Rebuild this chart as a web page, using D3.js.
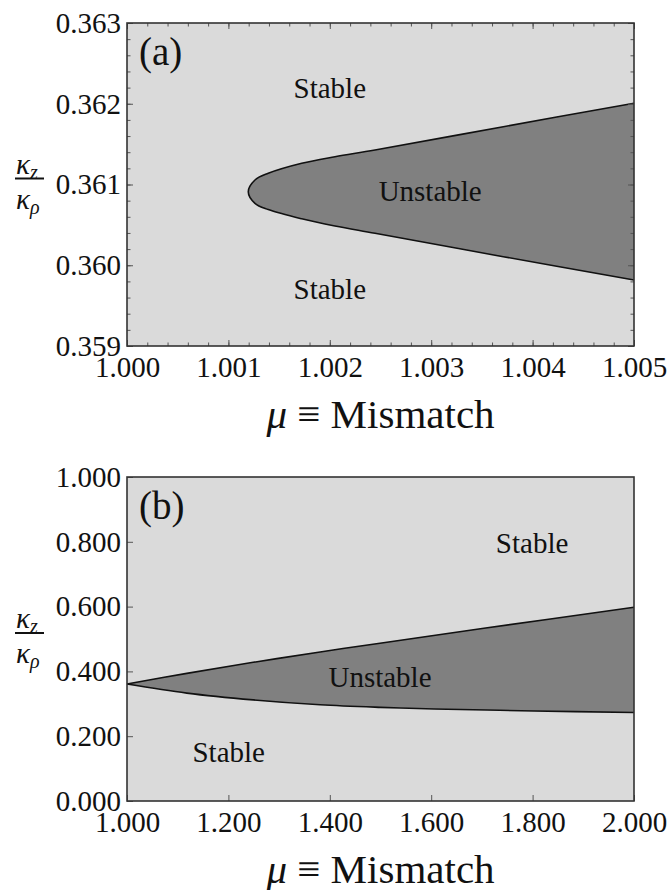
<!DOCTYPE html>
<html>
<head>
<meta charset="utf-8">
<script src="https://cdn.jsdelivr.net/npm/d3@7"></script>
<style>
  body { margin: 0; background: #fff; }
  svg text { font-family: "Liberation Serif", "Times New Roman", "DejaVu Serif", serif; fill: #111; }
</style>
</head>
<body>
<div id="chart"></div>
<script>
// panel (a) -- edge of the unstable region, both branches start at the tip
const upperMuA = [1.001196, 1.001262, 1.001393, 1.001723, 1.002051, 1.002446, 1.003711, 1.005];
const upperKA  = [0.360911, 0.361056, 0.361139, 0.361263, 0.361344, 0.361427, 0.361716, 0.362006];
const lowerMuA = [1.001196, 1.001262, 1.001393, 1.001723, 1.002051, 1.002446, 1.003711, 1.005];
const lowerKA  = [0.360911, 0.360767, 0.360690, 0.360575, 0.360486, 0.360396, 0.360106, 0.359817];

// panel (b) -- both branches leave the same point at mu = 1
const upperMuB = [1.000, 1.118, 1.249, 1.381, 1.499, 1.704, 2.000];
const upperKB  = [0.361, 0.394, 0.428, 0.460, 0.487, 0.533, 0.598];
const lowerMuB = [1.000, 1.118, 1.249, 1.381, 1.500, 1.606, 1.803, 2.000];
const lowerKB  = [0.361, 0.333, 0.312, 0.297, 0.289, 0.284, 0.278, 0.273];

// region labels
const labelTextA = ["Stable", "Unstable", "Stable"];
const labelMuA   = [1.002, 1.00299, 1.002];
const labelKA    = [0.36207, 0.3608, 0.35958];
const labelTextB = ["Stable", "Unstable", "Stable"];
const labelMuB   = [1.799, 1.499, 1.2006];
const labelKB    = [0.766, 0.353, 0.1213];

const width = 668, height = 890;
const left = 127, right = 634;

const svg = d3.select('#chart')
  .append('svg')
  .attr('width', width)
  .attr('height', height);

function zip(mu, k) {
  return mu.map((m, i) => [m, k[i]]);
}

function drawPanel(opts) {
  let x = d3.scaleLinear().domain(opts.xDomain).range([left, right]);
  let y = d3.scaleLinear().domain(opts.yDomain).range([opts.bottom, opts.top]);
  let g = svg.append('g');

  g.append('rect')
    .attr('x', left).attr('y', opts.top)
    .attr('width', right - left).attr('height', opts.bottom - opts.top)
    .attr('fill', '#dadada');

  let line = d3.line()
    .x(d => x(d[0]))
    .y(d => y(d[1]))
    .curve(d3.curveCatmullRom.alpha(0.5));

  let lower = zip(opts.lowerMu, opts.lowerK);
  let upper = zip(opts.upperMu, opts.upperK);
  let edges;
  if (opts.cusp) {
    // sharp corner where the branches meet: draw them apart
    edges = [line(lower.slice().reverse()) + line(upper).replace(/^M/, 'L')];
    g.append('path').attr('d', edges[0] + 'Z').attr('fill', '#808080');
    edges = [line(lower), line(upper)];
  } else {
    // smooth tip: one curve from lower right round to upper right
    let pts = lower.slice().reverse().concat(upper.slice(1));
    g.append('path').attr('d', line(pts) + 'Z').attr('fill', '#808080');
    edges = [line(pts)];
  }
  edges.forEach(d => {
    g.append('path')
      .attr('d', d)
      .attr('fill', 'none')
      .attr('stroke', '#111')
      .attr('stroke-width', 1.6);
  });

  // minor ticks first, all four sides, pointing inward
  if (opts.minor) {
    let xm = x.ticks(25), ym = y.ticks(20);
    let mk = (axis, t) => axis.tickValues(t).tickSize(-3.5).tickFormat('');
    g.append('g').attr('transform', `translate(0,${opts.bottom})`).call(mk(d3.axisBottom(x), xm));
    g.append('g').attr('transform', `translate(0,${opts.top})`).call(mk(d3.axisTop(x), xm));
    g.append('g').attr('transform', `translate(${left},0)`).call(mk(d3.axisLeft(y), ym));
    g.append('g').attr('transform', `translate(${right},0)`).call(mk(d3.axisRight(y), ym));
  }

  let xt = opts.xTicks, yt = opts.yTicks;
  let fmt = d3.format('.3f');

  g.append('g')
    .attr('class', 'xaxis')
    .attr('transform', `translate(0,${opts.bottom})`)
    .call(d3.axisBottom(x).tickValues(xt).tickSize(-6).tickPadding(10).tickFormat(fmt));
  g.append('g')
    .attr('class', 'yaxis')
    .attr('transform', `translate(${left},0)`)
    .call(d3.axisLeft(y).tickValues(yt).tickSize(-6).tickPadding(6).tickFormat(fmt));
  if (opts.minor) {
    g.append('g').attr('transform', `translate(0,${opts.top})`)
      .call(d3.axisTop(x).tickValues(xt).tickSize(-6).tickFormat(''));
    g.append('g').attr('transform', `translate(${right},0)`)
      .call(d3.axisRight(y).tickValues(yt).tickSize(-6).tickFormat(''));
  }

  g.selectAll('.domain').remove();
  g.selectAll('g[font-family]').attr('font-family', null);
  g.selectAll('.tick line').attr('stroke', '#555').attr('stroke-width', 1);
  g.selectAll('.xaxis text, .yaxis text')
    .attr('font-size', 29)
    .attr('fill', '#111');

  // frame
  g.append('rect')
    .attr('x', left).attr('y', opts.top)
    .attr('width', right - left).attr('height', opts.bottom - opts.top)
    .attr('fill', 'none')
    .attr('stroke', '#333')
    .attr('stroke-width', 1.6);

  // region labels
  g.selectAll('.region')
    .data(opts.labelText)
    .enter()
    .append('text')
    .attr('class', 'region')
    .attr('x', (d, i) => x(opts.labelMu[i]))
    .attr('y', (d, i) => y(opts.labelK[i]))
    .attr('text-anchor', 'middle')
    .attr('font-size', 29)
    .text(d => d);

  g.append('text')
    .attr('x', 139)
    .attr('y', opts.top + 42)
    .attr('font-size', 39)
    .text(opts.tag);

  // y label: kappa_z over kappa_rho
  let cy = (opts.top + opts.bottom) / 2 - 6;
  g.append('line')
    .attr('x1', 15).attr('x2', 44)
    .attr('y1', cy).attr('y2', cy)
    .attr('stroke', '#111').attr('stroke-width', 2);
  let num = g.append('text')
    .attr('x', 16).attr('y', cy - 5)
    .attr('font-size', 29).attr('font-style', 'italic');
  num.append('tspan').text('κ');
  num.append('tspan').attr('font-size', 20).attr('dy', 5).text('z');
  let den = g.append('text')
    .attr('x', 16).attr('y', cy + 30)
    .attr('font-size', 29).attr('font-style', 'italic');
  den.append('tspan').text('κ');
  den.append('tspan').attr('font-size', 20).attr('dy', 5).text('ρ');

  // x title
  let title = g.append('text')
    .attr('x', (left + right) / 2)
    .attr('y', opts.bottom + 82)
    .attr('text-anchor', 'middle')
    .attr('font-size', 41);
  title.append('tspan').attr('font-style', 'italic').text('μ');
  title.append('tspan').text(' ≡ Mismatch');
}

drawPanel({
  top: 23, bottom: 346,
  xDomain: [1.000, 1.005], yDomain: [0.359, 0.363],
  xTicks: [1.000, 1.001, 1.002, 1.003, 1.004, 1.005],
  yTicks: [0.359, 0.360, 0.361, 0.362, 0.363],
  minor: true, cusp: false,
  upperMu: upperMuA, upperK: upperKA, lowerMu: lowerMuA, lowerK: lowerKA,
  labelText: labelTextA, labelMu: labelMuA, labelK: labelKA,
  tag: '(a)'
});

drawPanel({
  top: 477, bottom: 801,
  xDomain: [1.0, 2.0], yDomain: [0.0, 1.0],
  xTicks: [1.0, 1.2, 1.4, 1.6, 1.8, 2.0],
  yTicks: [0.0, 0.2, 0.4, 0.6, 0.8, 1.0],
  minor: false, cusp: true,
  upperMu: upperMuB, upperK: upperKB, lowerMu: lowerMuB, lowerK: lowerKB,
  labelText: labelTextB, labelMu: labelMuB, labelK: labelKB,
  tag: '(b)'
});
</script>
</body>
</html>
